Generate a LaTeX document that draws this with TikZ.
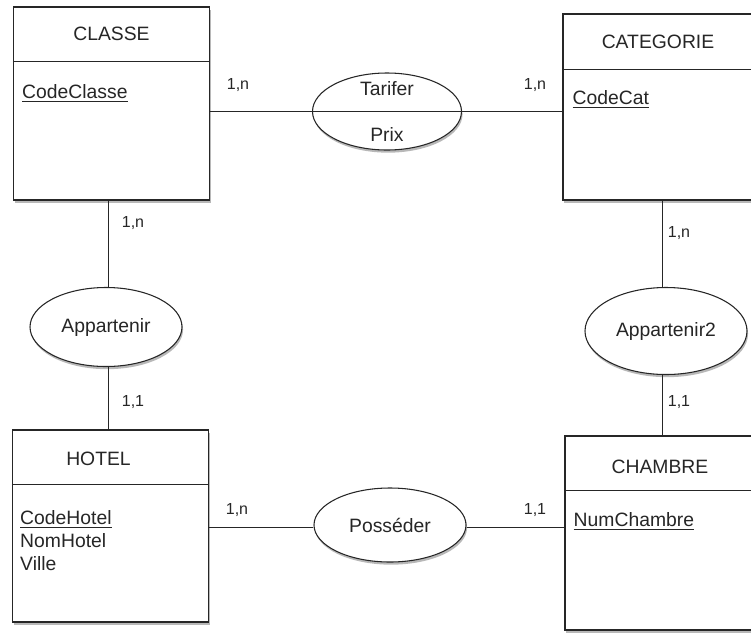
\documentclass[tikz,border=0pt]{standalone}
\usepackage{fontspec}
\setmainfont{Liberation Sans}
\usetikzlibrary{positioning, shapes.geometric, shadows, calc}

\tikzset{
  ombre/.style={drop shadow={shadow xshift=0.8pt, shadow yshift=-2pt, fill=black!55}},
  entite/.style={draw=black!85, line width=0.8pt, fill=white, minimum width=147pt, inner sep=0pt, ombre},
  assoc/.style={draw=black!85, ellipse, line width=0.8pt, fill=white, inner sep=0pt, ombre,
    font=\fontsize{14.5}{17}\selectfont, text=black!85},
  titre/.style={font=\fontsize{14.5}{17}\selectfont, text=black!85, inner sep=0pt},
  attr/.style={font=\fontsize{14.5}{17}\selectfont, text=black!85, align=left, anchor=north west, inner sep=0pt},
  card/.style={font=\fontsize{12}{14}\selectfont, text=black!85, inner sep=0pt},
  lien/.style={draw=black!85, line width=0.75pt}
}

\begin{document}
\begin{tikzpicture}[x=0.75pt, y=-0.75pt]
\clip (0,0) rectangle (751,633);
\fill[white] (0,0) rectangle (751,633);

% entites
\node[entite, minimum height=144.75pt] (classe) at (111.5,103.5) {};
\draw[lien] ($(classe.north west)+(0,55)$) -- ($(classe.north east)+(0,55)$);
\node[titre] (classe-t) at ($(classe.north)+(0,27.5)$) {CLASSE};
\node[attr] (classe-a) at ($(classe.north west)+(9,78)$) {\underline{CodeClasse}};

\node[entite, minimum height=139.5pt] (categorie) at (661,107) {};
\draw[lien] ($(categorie.north west)+(0,56)$) -- ($(categorie.north east)+(0,56)$);
\node[titre] (categorie-t) at ($(categorie.north)+(-3,28)$) {CATEGORIE};
\node[attr] (categorie-a) at ($(categorie.north west)+(10,77)$) {\underline{CodeCat}};

\node[entite, minimum height=144pt] (hotel) at (110.5,526) {};
\draw[lien] ($(hotel.north west)+(0,55)$) -- ($(hotel.north east)+(0,55)$);
\node[titre] (hotel-t) at ($(hotel.north)+(-12,29)$) {HOTEL};
\node[attr] (hotel-a) at ($(hotel.north west)+(8,81)$) {\underline{CodeHotel}\\NomHotel\\Ville};

\node[entite, minimum height=145.5pt] (chambre) at (663,533) {};
\draw[lien] ($(chambre.north west)+(0,55)$) -- ($(chambre.north east)+(0,55)$);
\node[titre] (chambre-t) at ($(chambre.north)+(-3,31)$) {CHAMBRE};
\node[attr] (chambre-a) at ($(chambre.north west)+(9,77)$) {\underline{NumChambre}};

% associations
\node[assoc, minimum width=111.75pt, minimum height=57.75pt] (tarifer) at (387,111.5) {};
\draw[lien] (tarifer.west) -- (tarifer.east);
\node[titre] (tarifer-t) at ($(tarifer.center)+(0,-23)$) {Tarifer};
\node[titre] (tarifer-p) at ($(tarifer.center)+(0,23)$) {Prix};

\node[assoc, minimum width=114pt, minimum height=59.25pt] (appartenir) at (106,327) {Appartenir};
\node[assoc, minimum width=121.5pt, minimum height=65.25pt] (appartenir2) at (666,331) {Appartenir2};
\node[assoc, minimum width=114pt, minimum height=55.5pt] (posseder) at (390,525) {Posséder};

% liens
\draw[lien] (tarifer.west) -- (tarifer.west -| classe.east);
\draw[lien] (tarifer.east) -- (tarifer.east -| categorie.west);
\draw[lien] ([xshift=1.5pt]appartenir.north) -- ([xshift=1.5pt]appartenir.north |- classe.south);
\draw[lien] ([xshift=1.5pt]appartenir.south) -- ([xshift=1.5pt]appartenir.south |- hotel.north);
\draw[lien] ([xshift=-3pt]appartenir2.north) -- ([xshift=-3pt]appartenir2.north |- categorie.south);
\draw[lien] ([xshift=-3pt]appartenir2.south) -- ([xshift=-3pt]appartenir2.south |- chambre.north);
\draw[lien] ([yshift=-1.5pt]posseder.west) -- ([yshift=-1.5pt]posseder.west -| hotel.east);
\draw[lien] ([yshift=-1.5pt]posseder.east) -- ([yshift=-1.5pt]posseder.east -| chambre.west);

% cardinalites
\node[card] (c1) at (238,85) {1,n};
\node[card] (c2) at (535,85) {1,n};
\node[card] (c3) at (133,223) {1,n};
\node[card] (c4) at (133,402) {1,1};
\node[card] (c5) at (679,233) {1,n};
\node[card] (c6) at (679,402) {1,1};
\node[card] (c7) at (237,510) {1,n};
\node[card] (c8) at (535,510) {1,1};
\end{tikzpicture}
\end{document}
